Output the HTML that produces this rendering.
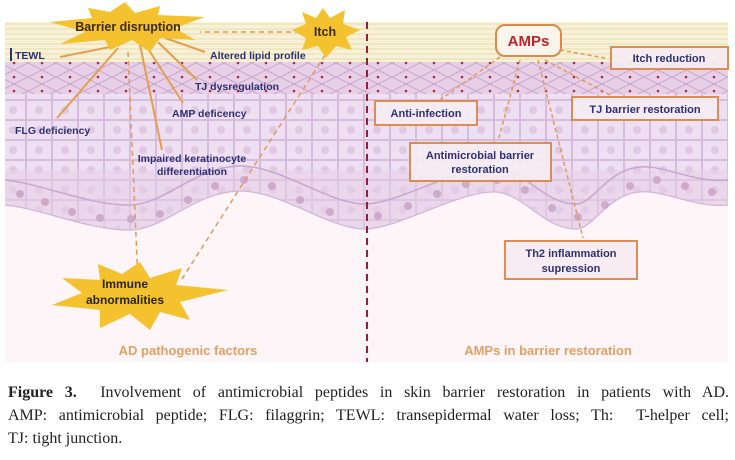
<!DOCTYPE html>
<html><head><meta charset="utf-8"><style>
body{margin:0;width:735px;height:460px;background:#fff;overflow:hidden;font-family:"Liberation Sans",sans-serif}
.cap{position:absolute;left:8px;width:721px;font-family:"Liberation Serif",serif;font-size:16px;line-height:23px;color:#222;top:381px}
.cap div{text-align:justify;text-align-last:justify;white-space:nowrap}
.cap div.l{text-align-last:left}
</style></head><body>
<svg width="735" height="375" style="position:absolute;left:0;top:0" xmlns="http://www.w3.org/2000/svg">
<defs>
<pattern id="sp" width="26" height="20" patternUnits="userSpaceOnUse">
<rect width="26" height="20" fill="#efdff2"/>
<rect x="0.5" y="0.5" width="25" height="19" fill="none" stroke="#d6bcdb" stroke-width="1"/>
<circle cx="13" cy="10" r="4" fill="#e0c8e2"/>
</pattern>
<pattern id="gr" width="28" height="14" patternUnits="userSpaceOnUse">
<rect width="28" height="14" fill="#e7d0e7"/>
<path d="M0 7 L14 0 L28 7 L14 14Z" fill="none" stroke="#cba6cc" stroke-width="1"/>
<circle cx="14" cy="7" r="1.3" fill="#b02846"/>
</pattern>
<pattern id="sc" width="40" height="5" patternUnits="userSpaceOnUse">
<rect width="40" height="5" fill="#f7f1d8"/>
<line x1="0" y1="4" x2="40" y2="4" stroke="#e8dbad" stroke-width="1"/>
</pattern>
<clipPath id="skin"><path d="M5 22 H728 V205 C700 208 675 195 650 192 C610 188 595 228 577 229 C545 230 525 195 497 192 C460 190 400 228 366 229 C330 230 280 190 239 191 C195 192 165 229 131 230 C90 231 40 208 5 205Z"/></clipPath>
</defs>
<rect x="5" y="22" width="723" height="340" fill="#fdf5f8"/>
<g clip-path="url(#skin)">
<rect x="5" y="22" width="723" height="220" fill="url(#sp)"/>
<rect x="5" y="170" width="723" height="70" fill="#e6cfe6" opacity="0.5"/>
<rect x="5" y="22" width="723" height="42" fill="url(#sc)"/>
<rect x="5" y="62" width="723" height="32" fill="url(#gr)"/>
</g>
<path d="M5 180 C40 183 90 206 131 205 C165 204 195 167 239 166 C280 165 330 205 366 204 C400 203 460 165 497 167 C525 170 545 205 577 204 C595 203 610 163 650 167 C675 170 700 183 728 180" fill="none" stroke="#c9a6cc" stroke-width="1.5"/>
<path d="M5 205 C40 208 90 231 131 230 C165 229 195 192 239 191 C280 190 330 230 366 229 C400 228 460 190 497 192 C525 195 545 230 577 229 C595 228 610 188 650 192 C675 195 700 208 728 205" fill="none" stroke="#d2b4d4" stroke-width="1.2"/>
<g fill="#cca6c8" opacity="0.9">
<circle cx="20" cy="194" r="4"/><circle cx="45" cy="202" r="4"/><circle cx="72" cy="212" r="4"/><circle cx="100" cy="218" r="4"/><circle cx="131" cy="219" r="4"/><circle cx="160" cy="214" r="4"/><circle cx="188" cy="200" r="4"/><circle cx="215" cy="186" r="4"/><circle cx="244" cy="180" r="4"/><circle cx="272" cy="186" r="4"/><circle cx="300" cy="200" r="4"/><circle cx="330" cy="212" r="4"/><circle cx="378" cy="216" r="4"/><circle cx="408" cy="206" r="4"/><circle cx="437" cy="194" r="4"/><circle cx="466" cy="184" r="4"/><circle cx="497" cy="180" r="4"/><circle cx="525" cy="190" r="4"/><circle cx="552" cy="208" r="4"/><circle cx="578" cy="217" r="4"/><circle cx="605" cy="205" r="4"/><circle cx="630" cy="186" r="4"/><circle cx="657" cy="180" r="4"/><circle cx="685" cy="186" r="4"/><circle cx="712" cy="192" r="4"/>
</g>
<line x1="367" y1="22" x2="367" y2="362" stroke="#9b1c3a" stroke-width="2" stroke-dasharray="7,5"/>
<g stroke="#e2a04e" stroke-width="2" fill="none">
<line x1="120" y1="45" x2="60" y2="57"/><line x1="118" y1="48" x2="57" y2="118"/>
<line x1="140" y1="45" x2="162" y2="150"/><line x1="145" y1="44" x2="183" y2="103"/>
<line x1="158" y1="42" x2="197" y2="80"/><line x1="165" y1="38" x2="205" y2="52"/>
</g>
<g stroke="#df9a5c" stroke-width="1.5" fill="none" stroke-dasharray="5,4">
<line x1="300" y1="32" x2="200" y2="32"/><line x1="128" y1="52" x2="138" y2="282"/><line x1="325" y1="55" x2="180" y2="282"/>
</g>
<polygon fill="#f4c22e" points="125,2 135,13 160,6 158,15 205,17 175,28 195,40 160,38 150,52 132,40 110,50 105,40 60,44 85,32 50,22 92,18 88,8 110,12"/>
<text x="128" y="31" font-size="12.5" font-weight="bold" text-anchor="middle" fill="#3a2a10">Barrier disruption</text>
<polygon fill="#f4c22e" points="323,8 330,18 345,10 343,24 360,30 346,37 352,50 336,46 326,58 318,46 302,50 306,38 292,30 306,24 302,12 316,18"/>
<text x="325" y="36" font-size="12.5" font-weight="bold" text-anchor="middle" fill="#3a2a10">Itch</text>
<polygon fill="#f4c22e" points="140,262 150,278 182,268 176,285 228,290 180,302 190,320 160,312 150,330 130,314 100,328 100,310 52,305 82,293 62,278 100,280 98,264 122,274"/>
<text x="125" y="288" font-size="12" font-weight="bold" text-anchor="middle" fill="#2a2418">Immune</text>
<text x="125" y="304" font-size="12" font-weight="bold" text-anchor="middle" fill="#2a2418">abnormalities</text>
<g font-size="10.5" font-weight="bold" fill="#2e3170">
<rect x="10" y="48" width="2" height="13" fill="#2e3170"/>
<text x="15" y="59">TEWL</text>
<text x="210" y="59">Altered lipid profile</text>
<text x="195" y="90">TJ dysregulation</text>
<text x="172" y="117">AMP deficency</text>
<text x="15" y="134">FLG deficiency</text>
<text x="192" y="162" text-anchor="middle">Impaired keratinocyte</text>
<text x="192" y="175" text-anchor="middle">differentiation</text>
</g>
<text x="188" y="355" font-size="13" font-weight="bold" text-anchor="middle" fill="#e1a064">AD pathogenic factors</text>
<g stroke="#df9a5c" stroke-width="1.5" fill="none" stroke-dasharray="4,3">
<line x1="560" y1="50" x2="605" y2="58"/><line x1="500" y1="57" x2="440" y2="100"/>
<line x1="520" y1="60" x2="498" y2="141"/><line x1="545" y1="60" x2="610" y2="95"/>
<line x1="538" y1="60" x2="583" y2="238"/>
</g>
<rect x="496" y="25" width="65" height="31" rx="9" fill="#fbf4ea" stroke="#d68a4e" stroke-width="2"/>
<text x="528.5" y="46" font-size="15" font-weight="bold" text-anchor="middle" fill="#b5262e">AMPs</text>
<g fill="#f6ecf2" stroke="#d98a4f" stroke-width="2" opacity="0.95">
<rect x="611" y="47" width="117" height="22"/>
<rect x="375" y="101" width="102" height="24"/>
<rect x="572" y="97" width="146" height="23"/>
<rect x="410" y="143" width="141" height="38"/>
<rect x="505" y="241" width="132" height="38"/>
</g>
<g font-size="11" font-weight="bold" fill="#2e3170" text-anchor="middle">
<text x="669" y="62">Itch reduction</text>
<text x="426" y="117">Anti-infection</text>
<text x="645" y="113">TJ barrier restoration</text>
<text x="480" y="159">Antimicrobial barrier</text>
<text x="480" y="173">restoration</text>
<text x="571" y="257">Th2 inflammation</text>
<text x="571" y="272">supression</text>
</g>
<text x="548" y="355" font-size="13" font-weight="bold" text-anchor="middle" fill="#e1a064">AMPs in barrier restoration</text>
</svg>
<div class="cap">
<div><b>Figure 3.</b>&nbsp; Involvement of antimicrobial peptides in skin barrier restoration in patients with AD.</div>
<div>AMP: antimicrobial peptide; FLG: filaggrin; TEWL: transepidermal water loss; Th:&nbsp; T-helper cell;</div>
<div class="l">TJ: tight junction.</div>
</div>
</body></html>
